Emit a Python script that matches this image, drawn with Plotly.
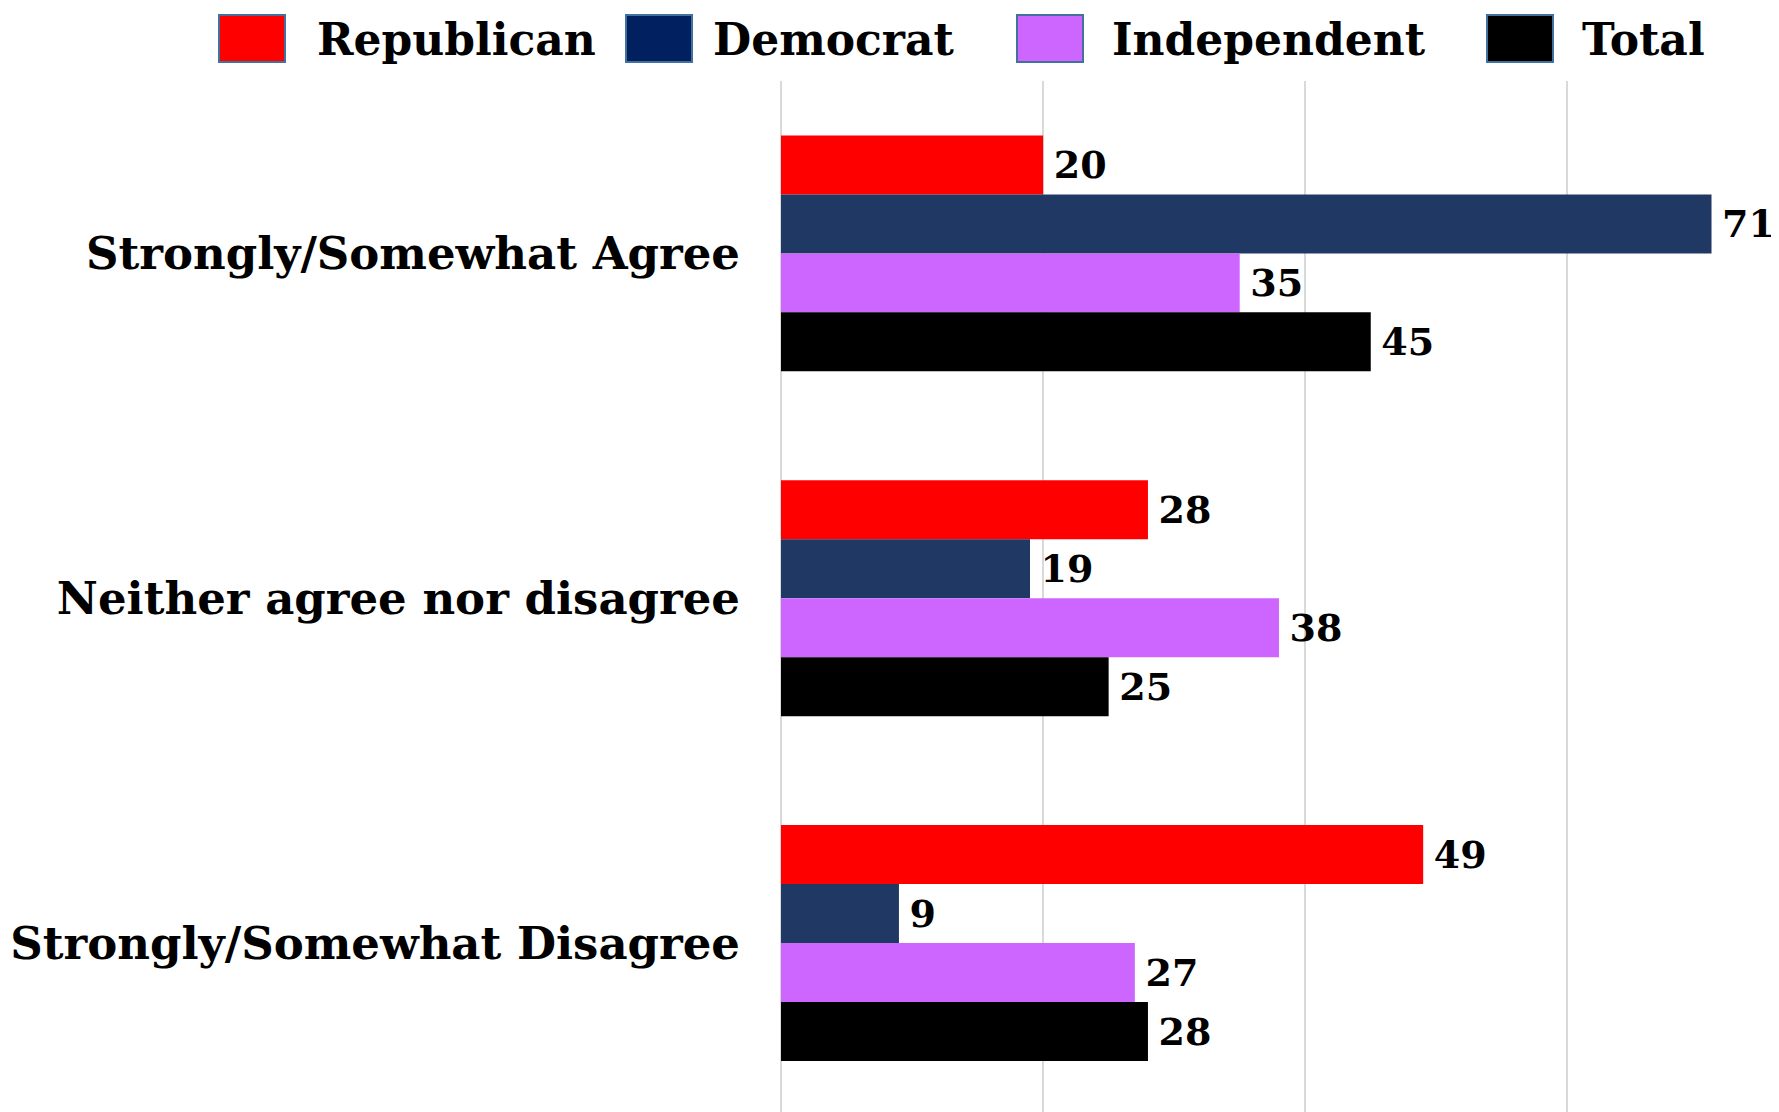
import plotly.graph_objects as go

categories = ["Strongly/Somewhat Agree", "Neither agree nor disagree", "Strongly/Somewhat Disagree"]
series_names = ["Republican", "Democrat", "Independent", "Total"]
republican = [20, 28, 49]
democrat = [71, 19, 9]
independent = [35, 38, 27]
total = [45, 25, 28]

values = [republican, democrat, independent, total]
bar_colors = ["#FF0000", "#203864", "#CC66FF", "#000000"]
legend_colors = ["#FF0000", "#002060", "#CC66FF", "#000000"]

# page offset compensation (browser body margin of 8px)
OFF = 8
W, H = 1779 - OFF, 1112 - OFF
ML, MR, MT, MB = 781 - OFF, 0, 81 - OFF, 0
FONT = "DejaVu Serif"

fig = go.Figure()
for name, vals, col in zip(series_names, values, bar_colors):
    fig.add_trace(go.Bar(
        y=categories, x=vals, name=name, orientation="h",
        marker=dict(color=col, line=dict(width=0)),
        text=vals, texttemplate="\u2009%{x}", textposition="outside",
        textfont=dict(family=FONT, size=38, color="black", weight="bold"),
        cliponaxis=False, showlegend=False,
    ))

pw = W - ML - MR
ph = H - MT - MB

def px2x(p):
    return (p - OFF - ML) / pw

def px2y(p):
    return (H - MB - (p - OFF)) / ph

# custom legend (large swatches), positions in page pixels
sw_left = [219, 626, 1017, 1487]
txt_left = [315, 711, 1110, 1580]
for name, col, sx, tx in zip(series_names, legend_colors, sw_left, txt_left):
    fig.add_shape(type="rect", xref="paper", yref="paper",
                  x0=px2x(sx), x1=px2x(sx + 66), y0=px2y(62), y1=px2y(15),
                  fillcolor=col, line=dict(color="#41719C", width=2))
    fig.add_annotation(xref="paper", yref="paper", x=px2x(tx), y=px2y(40),
                       text=name, showarrow=False, xanchor="left", yanchor="middle",
                       font=dict(family=FONT, size=44, color="black", weight="bold"))

fig.update_layout(
    width=W, height=H,
    margin=dict(l=ML, r=MR, t=MT, b=MB, pad=0),
    paper_bgcolor="white", plot_bgcolor="white",
    barmode="group", bargap=0.316, bargroupgap=0,
    font=dict(family=FONT, color="black"),
    showlegend=False,
)
fig.update_xaxes(range=[0, 76.15], showticklabels=False, showgrid=True,
                 gridcolor="#D9D9D9", gridwidth=2, dtick=20, tick0=0,
                 zeroline=True, zerolinecolor="#D9D9D9", zerolinewidth=2,
                 showline=False, fixedrange=True)
fig.update_yaxes(range=[2.49, -0.5], showgrid=False, showline=False,
                 ticks="", ticklabelstandoff=40,
                 tickfont=dict(family=FONT, size=45, color="black", weight="bold"))

fig.write_html("out.html")
